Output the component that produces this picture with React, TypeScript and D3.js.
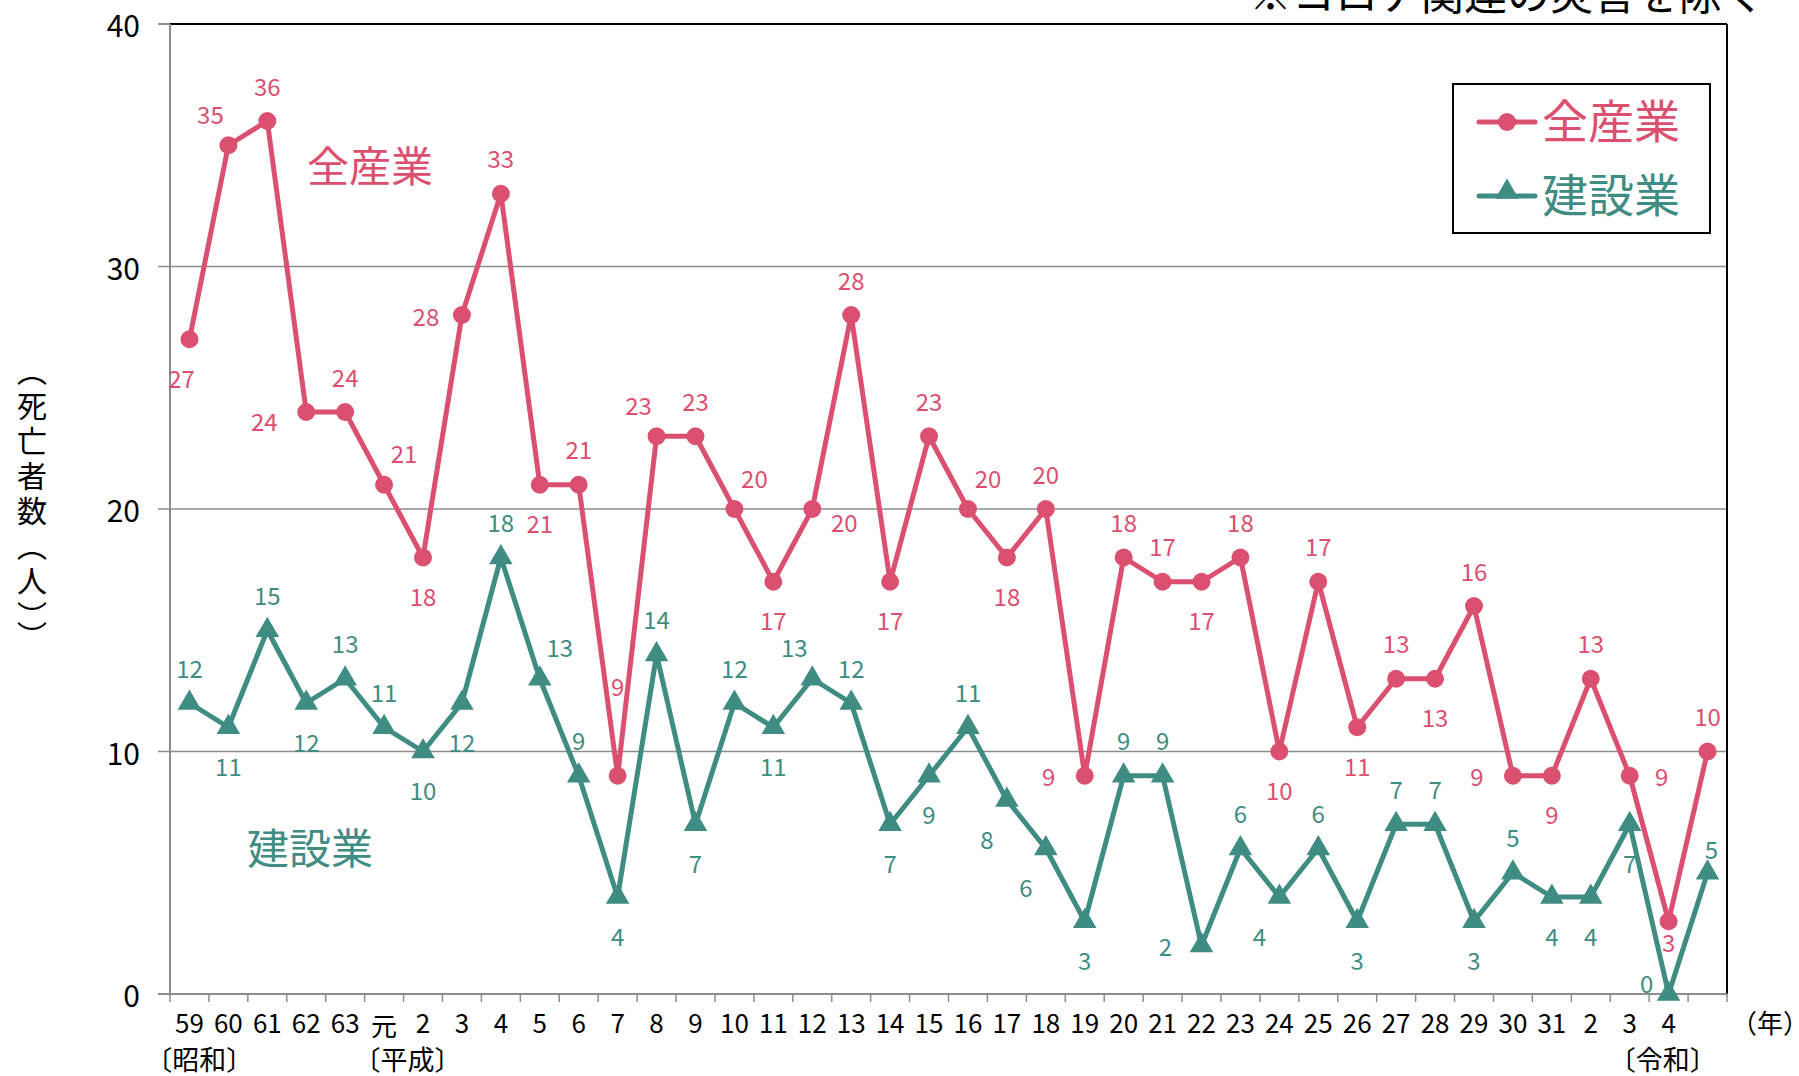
import * as d3 from "d3";

// x categories (年): 昭和59 … 令和4, plus one trailing unlabeled slot
const years = ["59", "60", "61", "62", "63", "元", "2", "3", "4", "5", "6", "7", "8", "9", "10", "11", "12", "13", "14", "15", "16", "17", "18", "19", "20", "21", "22", "23", "24", "25", "26", "27", "28", "29", "30", "31", "2", "3", "4", ""];
const allIndustry = [27, 35, 36, 24, 24, 21, 18, 28, 33, 21, 21, 9, 23, 23, 20, 17, 20, 28, 17, 23, 20, 18, 20, 9, 18, 17, 17, 18, 10, 17, 11, 13, 13, 16, 9, 9, 13, 9, 3, 10];
const construction = [12, 11, 15, 12, 13, 11, 10, 12, 18, 13, 9, 4, 14, 7, 12, 11, 13, 12, 7, 9, 11, 8, 6, 3, 9, 9, 2, 6, 4, 6, 3, 7, 7, 3, 5, 4, 4, 7, 0, 5];
const yTicks = [0, 10, 20, 30, 40];
const eras = [
  { name: "〔昭和〕", at: 0.75 },
  { name: "〔平成〕", at: 6.1 },
  { name: "〔令和〕", at: 38.35 },
];

// where each data label sits relative to its point
const allLabelPos = ["bl2", "al", "a", "l2", "a", "ar", "b", "l", "a", "b", "a", "a2", "al", "a", "ar", "b", "rb", "a", "b", "a", "ar", "b", "a", "l", "a", "a", "b", "a", "b", "a", "b", "a", "b", "a", "l", "b", "a", "r", "bs", "a"];
const conLabelPos = ["a", "b", "a", "b", "a", "a", "b", "b", "a", "ar", "a", "b", "a", "b", "a", "b", "al", "a", "b", "b", "a", "bl", "bl", "b", "a", "a", "l", "a", "bl", "a", "b", "a", "a", "b", "a", "b", "b", "b", "lu", "as"];

const offsets: Record<string, [number, number]> = {
  a: [0, -36],
  a2: [0, -90],
  as: [4, -24],
  b: [0, 38],
  bs: [0, 20],
  bl2: [-8, 38],
  l: [-36, 0],
  l2: [-42, 8],
  lu: [-22, -12],
  r: [32, 0],
  ar: [20, -32],
  al: [-18, -32],
  bl: [-20, 38],
  rb: [32, 12],
};

const RED = "#DB5070";
const GREEN = "#3F8C83";
const FONT = "'Noto Sans CJK JP', 'Noto Sans', sans-serif";

const W = 1799;
const H = 1076;
const m = { left: 170, right: 1727, top: 24, bottom: 994 };

export default function App() {
  const x = d3.scaleBand<number>().domain(d3.range(years.length)).range([m.left, m.right]);
  const cx = (i: number) => (x(i) as number) + x.bandwidth() / 2;
  const y = d3.scaleLinear().domain([0, 40]).range([m.bottom, m.top]);

  const line = d3
    .line<number>()
    .x((_, i) => cx(i))
    .y((d) => y(d));

  const tri = d3.symbol().type(d3.symbolTriangle).size(240)();

  const labels = (vals: number[], pos: string[], color: string) =>
    vals.map((v, i) => {
      const [dx, dy] = offsets[pos[i]];
      return (
        <text
          key={i}
          x={cx(i) + dx}
          y={y(v) + dy}
          fill={color}
          fontSize={24}
          textAnchor="middle"
          dominantBaseline="central"
        >
          {v}
        </text>
      );
    });

  return (
    <svg
      width={W}
      height={H}
      style={{ position: "absolute", left: 0, top: 0, background: "#fff" }}
      fontFamily={FONT}
    >
      {/* note at the top, partly cut off */}
      <text x={1765} y={10} fontSize={43} textAnchor="end" fill="#000">
        ※コロナ関連の災害を除く
      </text>

      {/* gridlines + y ticks */}
      {yTicks.map((t) => (
        <g key={t}>
          {t > 0 && t < 40 && (
            <line x1={m.left - 12} x2={m.right} y1={y(t)} y2={y(t)} stroke="#8c8c8c" strokeWidth={1.5} />
          )}
          {(t === 0 || t === 40) && (
            <line x1={m.left - 12} x2={m.left} y1={y(t)} y2={y(t)} stroke="#8c8c8c" strokeWidth={2} />
          )}
          <text x={140} y={y(t)} fontSize={30} textAnchor="end" dominantBaseline="central" fill="#000">
            {t}
          </text>
        </g>
      ))}

      {/* frame */}
      <line x1={m.left} x2={m.right} y1={m.top} y2={m.top} stroke="#000" strokeWidth={2} />
      <line x1={m.right} x2={m.right} y1={m.top} y2={m.bottom} stroke="#000" strokeWidth={2} />
      <line x1={m.left} x2={m.left} y1={m.top} y2={m.bottom} stroke="#8c8c8c" strokeWidth={2} />
      <line x1={m.left} x2={m.right} y1={m.bottom} y2={m.bottom} stroke="#8c8c8c" strokeWidth={2} />

      {/* x ticks */}
      {d3.range(years.length + 1).map((i) => {
        const xx = i < years.length ? (x(i) as number) : m.right;
        return <line key={i} x1={xx} x2={xx} y1={m.bottom} y2={m.bottom + 8} stroke="#8c8c8c" strokeWidth={1.5} />;
      })}
      {years.map((s, i) => (
        <text key={i} x={cx(i)} y={s === "元" ? 1036 : 1033} fontSize={26} textAnchor="middle" fill="#000">
          {s}
        </text>
      ))}
      {eras.map((e) => (
        <text key={e.name} x={m.left + e.at * x.bandwidth()} y={1070} fontSize={27} textAnchor="middle" fill="#000">
          {e.name}
        </text>
      ))}
      <text x={1770} y={1033} fontSize={26} textAnchor="middle" fill="#000">
        （年）
      </text>

      {/* y axis title */}
      <text
        x={32}
        y={356}
        fontSize={30}
        fill="#000"
        letterSpacing={5}
        style={{ writingMode: "vertical-rl" } as React.CSSProperties}
      >
        （死亡者数（人））
      </text>

      {/* series */}
      <path d={line(construction) as string} fill="none" stroke={GREEN} strokeWidth={5} strokeLinejoin="round" />
      {construction.map((v, i) => (
        <path key={i} d={tri as string} transform={`translate(${cx(i)},${y(v)})`} fill={GREEN} />
      ))}
      <path d={line(allIndustry) as string} fill="none" stroke={RED} strokeWidth={5} strokeLinejoin="round" />
      {allIndustry.map((v, i) => (
        <circle key={i} cx={cx(i)} cy={y(v)} r={9} fill={RED} />
      ))}

      {labels(allIndustry, allLabelPos, RED)}
      {labels(construction, conLabelPos, GREEN)}

      {/* in-plot series names */}
      <text x={370} y={182} fontSize={42} textAnchor="middle" fill={RED}>
        全産業
      </text>
      <text x={310} y={864} fontSize={42} textAnchor="middle" fill={GREEN}>
        建設業
      </text>

      {/* legend */}
      <rect x={1453} y={84} width={257} height={149} fill="#fff" stroke="#000" strokeWidth={2} />
      <line x1={1479} x2={1535} y1={122} y2={122} stroke={RED} strokeWidth={5} strokeLinecap="round" />
      <circle cx={1507} cy={122} r={9} fill={RED} />
      <text x={1542} y={138} fontSize={46} fill={RED}>
        全産業
      </text>
      <line x1={1479} x2={1535} y1={196} y2={196} stroke={GREEN} strokeWidth={5} strokeLinecap="round" />
      <path d={tri as string} transform="translate(1507,192)" fill={GREEN} />
      <text x={1542} y={212} fontSize={46} fill={GREEN}>
        建設業
      </text>
    </svg>
  );
}
